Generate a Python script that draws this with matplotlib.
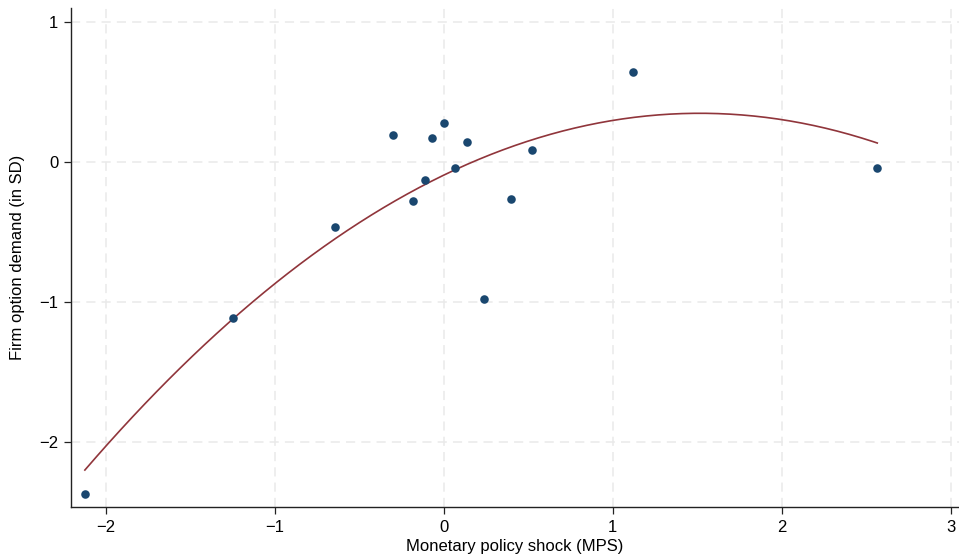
import numpy as np
import matplotlib.pyplot as plt

plt.rcParams['font.family'] = ['Liberation Sans', 'DejaVu Sans']

# binned scatter, MPS vs firm option demand
mps = [-2.128, -1.247, -0.647, -0.301, -0.181, -0.110, -0.071, -0.002,
       0.063, 0.138, 0.239, 0.398, 0.524, 1.121, 2.566]
demand = [-2.374, -1.116, -0.463, 0.189, -0.279, -0.133, 0.171, 0.279,
          -0.047, 0.139, -0.983, -0.269, 0.084, 0.640, -0.046]

# quadratic fit line
fit_coef = [-0.1922, 0.5824, -0.0951]
fit_range = (-2.126, 2.566)

xticks = [-2, -1, 0, 1, 2, 3]
yticks = [-2, -1, 0, 1]

fig = plt.figure(figsize=(9.59, 5.6), dpi=100)
ax = fig.add_axes([0.0737, 0.0946, 0.9263, 0.8911])

xs = np.linspace(fit_range[0], fit_range[1], 200)
ax.plot(xs, np.polyval(fit_coef, xs), color='#90353b', lw=1.2, zorder=3)
ax.scatter(mps, demand, s=38, color='#1a476f', zorder=4, linewidths=0)

ax.set_xlim(-2.21, 3.05)
ax.set_ylim(-2.466, 1.098)
ax.set_xticks(xticks)
ax.set_yticks(yticks)
ax.grid(True, color='#eaeaea', ls=(0, (6, 4)), lw=1.1)
ax.set_axisbelow(True)

for s in ['top', 'right']:
    ax.spines[s].set_visible(False)
for s in ['left', 'bottom']:
    ax.spines[s].set_color('#222222')
    ax.spines[s].set_linewidth(1.0)
ax.tick_params(direction='out', length=5, width=0.9, color='#222222', labelsize=12, pad=4)

ax.set_xlabel('Monetary policy shock (MPS)', fontsize=12, labelpad=3)
ax.set_ylabel('Firm option demand (in SD)', fontsize=12, labelpad=10)

fig.savefig('out.png', dpi=100)
